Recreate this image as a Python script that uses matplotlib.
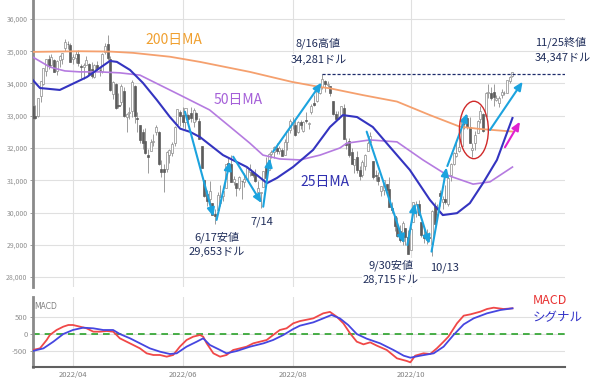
import matplotlib
matplotlib.use('Agg')
import matplotlib.pyplot as plt
import numpy as np
import pandas as pd
from matplotlib.patches import Ellipse

plt.rcParams['font.family'] = ['Noto Sans CJK JP', 'DejaVu Sans']

# ---------------- data ----------------
holidays = ['2022-04-15', '2022-05-30', '2022-06-20', '2022-07-04', '2022-09-05', '2022-11-24']
dates = pd.bdate_range('2022-03-11', '2022-11-25')
dates = dates[~dates.isin(pd.to_datetime(holidays))]

o_mar = [33300,33000,33000,33620,33980,34400,34770,34580,34720,34380,34720,34760,35100,35230,35200]
h_mar = [33500,33330,33560,34090,34490,34760,34870,34920,34770,34720,34870,34960,35370,35320,35250]
l_mar = [32920,32890,32950,33420,33950,34230,34450,34550,34350,34270,34520,34620,35000,35080,34660]
c_mar = [32944,32945,33544,34063,34481,34754,34553,34808,34358,34708,34862,34955,35294,35229,34678]

o_apr = [34750,34800,34900,34530,34500,34580,34620,34450,34210,34570,34420,34390,34980,35230,34770,33680,33980,33340,33440,33760]
h_apr = [34900,35000,35040,34600,34630,34860,34640,34660,34620,34700,34500,34950,35270,35490,34840,34070,34000,33690,33980,33900]
l_apr = [34620,34640,34550,34170,34140,34560,34260,34180,34180,34430,34230,34340,34910,34730,33780,33530,33220,33240,33330,32950]
c_apr = [34818,34922,34641,34497,34583,34721,34309,34221,34565,34451,34412,34911,35161,34793,33811,34049,33240,33302,33916,32977]

o_may = [32960,33090,33140,33920,32930,32720,32500,32230,31790,31900,32180,32500,32500,31340,31350,31360,31780,31850,32150,32730,33130]
h_may = [33090,33280,34110,33940,33130,32720,32600,32630,31960,32280,32430,32700,32540,31620,31500,31900,31980,32200,32680,33220,33180]
l_may = [32500,32900,32950,32760,32510,32160,31960,31820,31230,31900,32050,32400,31470,31100,30640,31270,31530,31760,32060,32700,32690]
c_may = [33061,33129,34061,32998,32899,32246,32161,31834,31730,32197,32223,32655,31490,31253,31262,31880,31929,32120,32637,33213,32990]

o_jun = [33020,32820,33030,33080,32800,33100,32840,32070,31000,30560,30420,30300,29950,30070,30300,30520,30770,31530,31490,30950,30920]
h_jun = [33270,33250,33060,33270,33240,33120,32940,32070,31000,30690,30970,30300,30120,30630,30850,30760,31510,31700,31780,31130,30920]
l_jun = [32640,32580,32780,32800,32640,32830,32270,31390,30480,30210,30210,29920,29653,30070,30200,30350,30770,31340,30940,30850,30500]
c_jun = [32813,33248,32900,32916,33180,32910,32273,31393,30517,30365,30668,29927,29888,30530,30484,30677,31501,31439,30947,31029,30775]

o_jul = [30750,30990,30950,31050,31260,31270,31180,30650,30600,30780,31420,31330,31800,31880,32000,31920,31950,31790,32200,32570]
h_jul = [31120,30990,31220,31390,31490,31300,31360,30970,30640,31290,31710,31830,31930,32060,32170,32060,32000,32290,32550,32910]
l_jul = [30710,30430,30800,31050,31140,31110,30940,30550,30143,30780,31050,31330,31700,31680,31800,31800,31740,31770,31950,32480]
c_jul = [31097,30968,31037,31385,31338,31174,30982,30773,30630,31288,31073,31827,31875,32037,31900,31990,31762,32198,32530,32845]

o_aug = [32740,32700,32490,32810,32530,32870,32750,33110,33380,33450,33710,33880,34070,33960,33920,33450,33060,32900,33010,33250,32160,32230,31870]
h_aug = [32950,32900,32850,32880,32850,33120,32820,33360,33640,33770,33930,34281,34100,34090,33930,33450,33140,33150,33300,33370,32320,32320,31990]
l_aug = [32590,32380,32480,32600,32510,32760,32600,33060,33290,33440,33660,33840,33740,33880,33620,33030,32900,32890,33010,32270,31970,31710,31500]
c_aug = [32798,32397,32813,32727,32803,32833,32775,33310,33337,33761,33913,34152,33981,33999,33707,33064,32910,32970,33292,32283,32099,31791,31510]

o_sep = [31460,31710,31330,31160,31450,31900,32200,31600,31150,31110,30670,30700,30880,30740,30150,29900,29590,29440,29130,29520,29230]
h_sep = [31660,31900,31450,31630,31820,32230,32510,31600,31330,31270,30830,31020,30890,31100,30340,29900,29860,29620,29750,29520,29450]
l_sep = [31240,31230,31000,31100,31310,31900,32190,31050,30990,30860,30500,30550,30560,30170,29980,29440,29230,29080,28990,28990,28715]
c_sep = [31656,31318,31145,31581,31775,32152,32381,31105,31135,30962,30822,31020,30706,30184,30077,29590,29261,29135,29684,29226,28726]

o_oct = [28850,29700,30030,30250,29700,29300,29160,29240,29030,30200,29950,30600,30320,30420,30270,31150,31510,31750,31920,32050,32740]
h_oct = [29560,30320,30370,30400,29720,29480,29490,29410,30090,30330,30260,30700,30520,30850,31120,31530,31890,32210,32330,32890,32860]
l_oct = [28850,29700,29850,29910,29240,29040,29030,29150,28661,29620,29950,30200,30120,30260,30210,30980,31460,31720,31890,32000,32580]
c_oct = [29491,30317,30274,29927,29297,29203,29240,29211,30039,29635,30186,30524,30424,30334,31083,31500,31837,31839,32034,32861,32733]

o_nov = [32940,32660,31930,32160,32460,32900,33050,33000,33700,33700,33740,33500,33380,33640,33700,33720,34080,34230]
h_nov = [33010,32960,32170,32520,32860,33290,33080,33740,33990,33890,33990,33630,33620,33840,33780,34110,34240,34360]
l_nov = [32580,32140,31730,31950,32460,32770,32500,32980,33560,33500,33300,33450,33270,33560,33630,33700,34000,34200]
c_nov = [32653,32148,32001,32403,32827,33161,32514,33716,33748,33537,33593,33554,33547,33746,33700,34098,34195,34347]

# moving averages (trading-day position from 2022/04/01, value)
ma200_x = [-15, 2.6, 13.8, 22.4, 36.2, 47.4, 66, 81.7, 92.2, 95.9, 108.2, 120.9, 133.2, 144.4, 151.9, 164]
ma200_v = [34980, 35000, 34990, 34950, 34830, 34670, 34360, 34050, 33890, 33850, 33640, 33440, 33020, 32660, 32590, 32510]

ma50_x = [-15, -8.6, -3, 2.6, 10, 17.5, 25, 32.5, 40, 51, 58.6, 66, 70.9, 77.2, 84.7, 92.2, 99.6, 102.2, 110.8, 120.9, 130.6, 139.6, 149.3, 155.6, 164]
ma50_v = [34820, 34510, 34390, 34360, 34360, 34330, 34260, 33950, 33640, 33180, 32660, 32150, 31780, 31660, 31630, 31780, 32000, 32150, 32250, 32190, 31630, 31160, 30880, 30950, 31410]

ma25_x = [-15, -12.3, -4.9, -1.1, 5.2, 10, 13.8, 16.4, 21.3, 26.1, 31.3, 36.2, 40, 43.7, 47.4, 56, 64.9, 72.4, 76.1, 82.1, 89.6, 95.9, 100.7, 106, 111.9, 118.3, 125.7, 133.2, 138, 143.3, 148.1, 153, 158.2, 164]
ma25_v = [34110, 33860, 33800, 33950, 34200, 34480, 34700, 34670, 34420, 34020, 33490, 32960, 32600, 32500, 32340, 31780, 31410, 30910, 31070, 31410, 31940, 32650, 33020, 32960, 32650, 32030, 31320, 30390, 29920, 29980, 30290, 30910, 31630, 32930]

macd_x = [-15, -12.3, -9.8, -8.6, -6.1, -3.6, -1.7, 0, 2.6, 5.1, 7.6, 10.1, 12.6, 15, 16.3, 17.5, 20, 22.5, 25, 27.5,
          30, 32.5, 35, 37.4, 39.9, 42.4, 44.9, 47.4, 48.6, 49.9, 52.4, 54.9, 57.3, 59.8, 62.3, 64.8, 67.3, 69.8, 72.3,
          74.7, 77.2, 79.7, 82.2, 84.7, 89.7, 93.4, 95.9, 98.4, 100.9, 103.4, 105.9, 108.4, 110.9, 113.4, 117.1, 120.9,
          124.6, 125.9, 127.7, 130.8, 133.3, 135.8, 138.3, 140.1, 143.3, 145.8, 148.3, 152, 154.5, 157, 160.7, 164]
macd_v = [-470, -422, -176, -29, 118, 216, 265, 265, 216, 167, 69, 69, 88, 69, -29, -127, -225, -323, -422, -568,
          -617, -617, -666, -617, -372, -176, -78, -29, -78, -274, -568, -666, -617, -470, -422, -372, -274, -225, -176,
          -29, 118, 167, 314, 380, 460, 608, 650, 510, 314, 20, -225, -304, -245, -343, -470, -715,
          -794, -833, -637, -568, -588, -421, -225, -78, 314, 539, 578, 657, 735, 774, 735, 755]

signal_x = [-15, -11, -7.3, -3.6, 0, 3.8, 7.6, 11.3, 15, 17.5, 21.3, 25, 28.7, 32.5, 36.2, 38.7, 42.4, 46.2, 48.6,
            51.1, 54.9, 57.3, 61.1, 66.1, 71.1, 74.7, 78.5, 82.2, 84.7, 89.7, 93.4, 96.5, 99.6, 102.7, 105.9, 109.6,
            114.6, 119.6, 123.4, 125.9, 129.6, 134.6, 138.3, 142, 145.8, 149.5, 154.5, 159.5, 164]
signal_v = [-500, -422, -225, 0, 118, 186, 167, 118, 118, 0, -127, -274, -422, -520, -588, -568, -372, -225, -127,
            -323, -470, -568, -500, -372, -274, -176, -29, 147, 245, 343, 460, 560, 460, 265, 0, -137,
            -274, -470, -637, -696, -637, -568, -372, -29, 284, 460, 608, 706, 755]

month_ticks = ['2022-04', '2022-06', '2022-08', '2022-10']
month_labels = ['2022/04', '2022/06', '2022/08', '2022/10']
y_ticks = [28000, 29000, 30000, 31000, 32000, 33000, 34000, 35000, 36000]
macd_ticks = [-500, 0, 500]

# ---------------- arrays ----------------
opens = np.array(o_mar + o_apr + o_may + o_jun + o_jul + o_aug + o_sep + o_oct + o_nov, float)
highs = np.array(h_mar + h_apr + h_may + h_jun + h_jul + h_aug + h_sep + h_oct + h_nov, float)
lows = np.array(l_mar + l_apr + l_may + l_jun + l_jul + l_aug + l_sep + l_oct + l_nov, float)
closes = np.array(c_mar + c_apr + c_may + c_jun + c_jul + c_aug + c_sep + c_oct + c_nov, float)
n = min(len(dates), len(opens))
dates = dates[:n]
apr1 = dates.get_loc(pd.Timestamp('2022-04-01'))
x = np.arange(n) - apr1
ym = dates.strftime('%Y-%m')
tick_pos = [x[ym == m][0] for m in month_ticks]

# ---------------- figure ----------------
W, H = 600, 380
fig = plt.figure(figsize=(6, 3.8), dpi=100)
ax = fig.add_axes([33 / W, 1 - 287 / H, 532 / W, 287 / H])
ax2 = fig.add_axes([33 / W, 13 / H, 532 / W, 70 / H])

XL = (-14.9, 183.6)
for a in (ax, ax2):
    a.set_xlim(*XL)
    a.set_xticks(tick_pos)
    for s in ('top', 'right'):
        a.spines[s].set_visible(False)
    a.spines['left'].set_color('#8a8a8a')
    a.spines['left'].set_linewidth(2)
    a.grid(True, color='#e0e0e0', lw=0.8, zorder=0)
    a.set_axisbelow(True)

ax.spines['bottom'].set_visible(False)
ax.set_ylim(27690, 36589)
ax.set_yticks(y_ticks)
ax.set_yticklabels([f'{v:,}' for v in y_ticks])
ax.tick_params(axis='y', labelsize=5, colors='#909090', length=2, pad=2, width=0.6)
ax.tick_params(axis='x', length=0, labelbottom=False)

# candles
up = closes >= opens
ax.vlines(x, lows, highs, color='#8c8c8c', lw=0.6, zorder=2)
ax.bar(x[up], (closes - opens)[up], bottom=opens[up], width=0.75, color='white',
       edgecolor='#8c8c8c', lw=0.5, zorder=3)
ax.bar(x[~up], (opens - closes)[~up], bottom=closes[~up], width=0.75, color='#5c5c5c',
       edgecolor='#5c5c5c', lw=0.5, zorder=3)

# moving averages
ax.plot(ma200_x, ma200_v, color='#f5a06e', lw=1.3, zorder=4)
ax.plot(ma50_x, ma50_v, color='#b57be0', lw=1.2, zorder=4)
ax.plot(ma25_x, ma25_v, color='#3434c0', lw=1.5, zorder=4)

# high line
ax.plot([x[dates.get_loc(pd.Timestamp('2022-08-16'))], XL[1]], [34281, 34281],
        color='#1c2a6a', lw=0.9, ls=(0, (2.5, 1.5)), zorder=5)

# trend arrows
arrow_col = '#1ca3de'
arrows = [((41.8, 33126), (52.4, 29870)), ((53.6, 29770), (58.6, 31580)),
          ((59.8, 31730), (70.4, 30290)), ((71.0, 30180), (73.5, 31680)),
          ((74.7, 31890), (92.8, 34030)), ((109.6, 32507), (123.5, 29046)),
          ((124.8, 28994), (127.6, 30285)), ((128.5, 30234), (133.0, 29025)),
          ((133.8, 28787), (139.4, 31400)), ((139.7, 31440), (147.1, 33077)),
          ((155.6, 32559), (167.8, 34056))]
for (s, e) in arrows:
    ax.annotate('', xy=e, xytext=s,
                arrowprops=dict(arrowstyle='-|>,head_length=0.5,head_width=0.22', color=arrow_col,
                                lw=1.5, shrinkA=0, shrinkB=0), zorder=6)
ax.annotate('', xy=(166.8, 32816), xytext=(161.2, 32023),
            arrowprops=dict(arrowstyle='-|>,head_length=0.5,head_width=0.22', color='#e020d0',
                            lw=1.5, shrinkA=0, shrinkB=0), zorder=6)

ax.add_patch(Ellipse((149.6, 32559), 10.8, 1780, fill=False, ec='#d02a2a', lw=1.0, zorder=7))

# labels
txt = '#1f2d5a'
bb = dict(fc='white', ec='none', pad=0.8)
ax.text(37.7, 35350, '200日MA', color='#f0a030', fontsize=10, ha='center', va='center', zorder=8)
ax.text(61.6, 33490, '50日MA', color='#a560d8', fontsize=10, ha='center', va='center', zorder=8)
ax.text(94.0, 30946, '25日MA', color='#3030b0', fontsize=10, ha='center', va='center', zorder=8)
ax.text(91.4, 35256, '8/16高値', color=txt, fontsize=8, ha='center', va='center', bbox=bb, zorder=8)
ax.text(91.8, 34729, '34,281ドル', color=txt, fontsize=8, ha='center', va='center', bbox=bb, zorder=8)
ax.text(53.7, 29240, '6/17安値', color=txt, fontsize=8, ha='center', va='center', bbox=bb, zorder=8)
ax.text(53.7, 28775, '29,653ドル', color=txt, fontsize=8, ha='center', va='center', bbox=bb, zorder=8)
ax.text(70.5, 29705, '7/14', color=txt, fontsize=8, ha='center', va='center', bbox=bb, zorder=8)
ax.text(118.7, 28372, '9/30安値', color=txt, fontsize=8, ha='center', va='center', bbox=bb, zorder=8)
ax.text(118.7, 27907, '28,715ドル', color=txt, fontsize=8, ha='center', va='center', bbox=bb, zorder=8)
ax.text(138.8, 28279, '10/13', color=txt, fontsize=8, ha='center', va='center', bbox=bb, zorder=8)
ax.text(172.4, 35287, '11/25終値', color=txt, fontsize=8, ha='left', va='center', bbox=bb, zorder=8)
ax.text(172.4, 34791, '34,347ドル', color=txt, fontsize=8, ha='left', va='center', bbox=bb, zorder=8)

# ---------------- MACD panel ----------------
ax2.set_ylim(-970, 1088)
ax2.set_yticks(macd_ticks)
ax2.set_yticklabels([str(v) for v in macd_ticks])
ax2.spines['bottom'].set_color('#606060')
ax2.spines['bottom'].set_linewidth(1.5)
ax2.tick_params(axis='y', labelsize=5.5, colors='#909090', length=2, pad=2, width=0.6)
ax2.set_xticklabels(month_labels)
ax2.tick_params(axis='x', labelsize=5.5, colors='#808080', length=0, pad=3)
ax2.axhline(0, color='#2aa22a', lw=1.2, ls=(0, (4, 3)), zorder=2)
ax2.plot(macd_x, macd_v, color='#f04848', lw=1.3, zorder=3)
ax2.plot(signal_x, signal_v, color='#4646e0', lw=1.3, zorder=4)
ax2.text(0.003, 0.93, 'MACD', transform=ax2.transAxes, fontsize=5.5, color='#808080',
         ha='left', va='top', family='DejaVu Sans')
fig.text(533 / W, 1 - 301 / H, 'MACD', color='#e83030', fontsize=9, ha='left', va='center')
fig.text(533 / W, 1 - 318 / H, 'シグナル', color='#3535c8', fontsize=9, ha='left', va='center')

fig.savefig('out.png', dpi=100)
